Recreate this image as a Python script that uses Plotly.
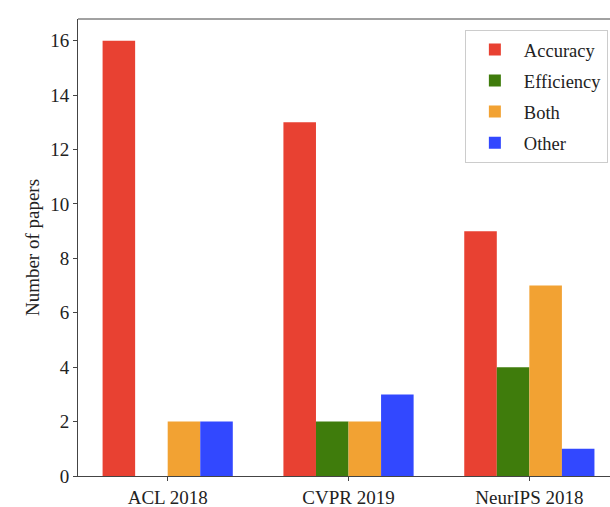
import plotly.graph_objects as go

categories = ["ACL 2018", "CVPR 2019", "NeurIPS 2018"]
accuracy = [16, 13, 9]
efficiency = [0, 2, 4]
both = [2, 2, 7]
other = [2, 3, 1]

series = [
    ("Accuracy", accuracy, "#E84132"),
    ("Efficiency", efficiency, "#3F7C0C"),
    ("Both", both, "#F2A233"),
    ("Other", other, "#3248FF"),
]

xpos = list(range(len(categories)))
font_family = "Liberation Serif, Times New Roman, serif"

fig = go.Figure()
for i, (name, vals, color) in enumerate(series):
    fig.add_trace(go.Bar(
        x=xpos, y=vals, name=name, marker=dict(color=color, line=dict(width=0)),
        legendgroup=f"g{i}",
    ))

fig.update_layout(
    width=610, height=507,
    margin=dict(l=78, r=0, t=19, b=31),
    paper_bgcolor="white", plot_bgcolor="white",
    barmode="group", bargap=0.28, bargroupgap=0,
    font=dict(family=font_family, size=19, color="#222"),
    showlegend=True,
    legend=dict(
        x=0.996, y=0.976, xanchor="right", yanchor="top",
        bordercolor="#cccccc", borderwidth=1, bgcolor="white",
        font=dict(family=font_family, size=18.5, color="#222"),
        tracegroupgap=4, itemwidth=48,
    ),
    xaxis=dict(
        range=[-0.496, 2.446], tickvals=xpos, ticktext=categories,
        showline=True, linecolor="#444", linewidth=1,
        ticks="outside", ticklen=4, tickcolor="#444",
        showgrid=False, zeroline=False,
    ),
    yaxis=dict(
        range=[0, 16.8], tickvals=[0, 2, 4, 6, 8, 10, 12, 14, 16],
        showline=True, linecolor="#444", linewidth=1,
        ticks="outside", ticklen=4, tickcolor="#444",
        showgrid=False, zeroline=False,
        title=dict(text="Number of papers", standoff=5,
                   font=dict(family=font_family, size=19)),
    ),
    shapes=[dict(type="line", xref="paper", yref="paper", x0=0, x1=1, y0=1, y1=1,
                 line=dict(color="#444", width=1))],
)

fig.write_html(
    "out.html",
    config={"displayModeBar": False},
    post_script="document.body.style.margin='0';document.body.style.overflow='hidden';",
)
